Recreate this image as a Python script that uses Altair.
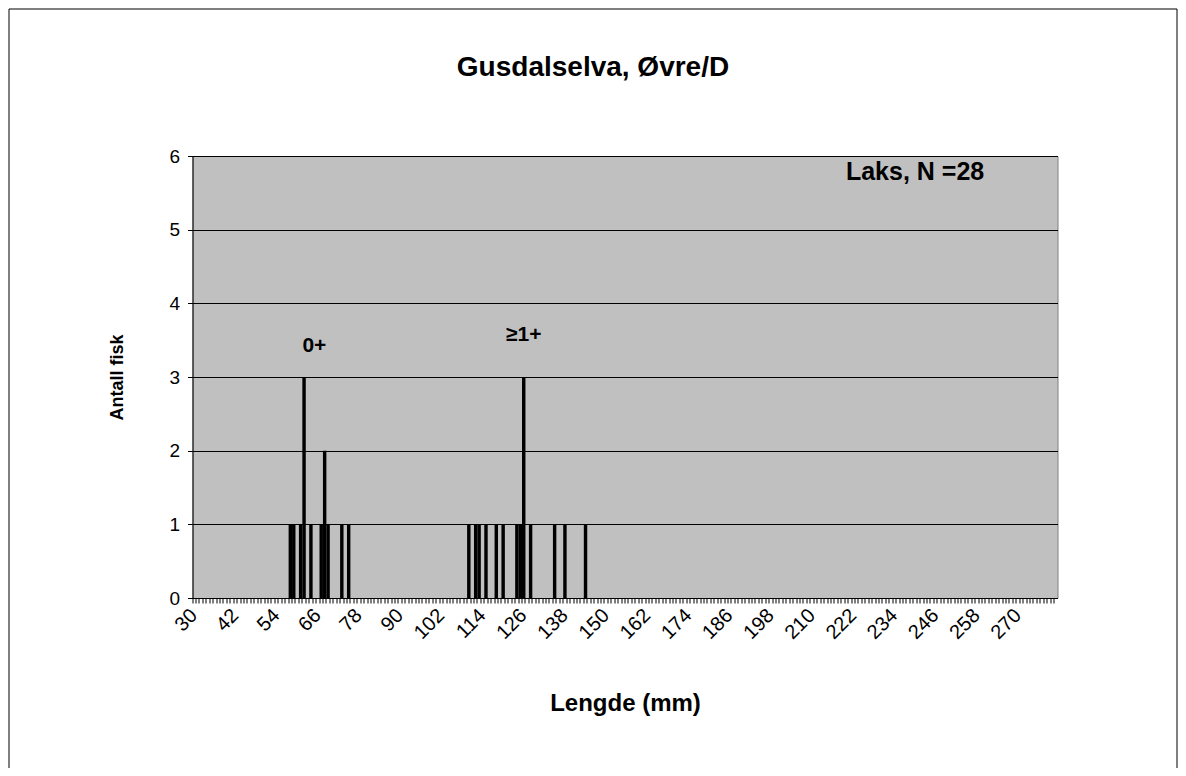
import altair as alt
import pandas as pd

# ---- data ----
categories = list(range(30, 282))          # length classes (mm), one per mm
lengde_mm = [58, 59, 61, 62, 64, 67, 68, 69, 73, 75,
             110, 112, 113, 115, 118, 120, 124, 125, 126, 128, 135, 138, 144]
antall = [1, 1, 1, 3, 1, 1, 2, 1, 1, 1,
          1, 1, 1, 1, 1, 1, 1, 1, 3, 1, 1, 1, 1]
tick_labels = list(range(30, 271, 12))

ann_text = ["0+", "\u22651+"]
ann_x = [65, 126]
ann_y = [3.42, 3.57]

title_text = "Gusdalselva, \u00d8vre/D"
legend_text = "Laks, N =28"

FONT = "Liberation Sans"

counts = dict(zip(lengde_mm, antall))
df = pd.DataFrame({"lengde": categories,
                   "antall": [counts.get(c, 0) for c in categories]})
ann = pd.DataFrame({"lengde": ann_x, "y": ann_y, "label": ann_text})
leg = pd.DataFrame({"lengde": [240], "y": [5.78], "label": [legend_text]})

xscale = alt.Scale(domain=categories, paddingInner=0, paddingOuter=0)
yscale = alt.Scale(domain=[0, 6])

label_expr = "(datum.value - 30) % 12 == 0 ? datum.label : ''"

bars = alt.Chart(df).mark_bar(color="black").encode(
    x=alt.X("lengde:O", scale=xscale, sort=None,
            axis=alt.Axis(values=categories, labelExpr=label_expr,
                          labelAngle=-45, labelAlign="right", labelBaseline="middle",
                          labelPadding=9, labelFont=FONT, labelFontSize=20,
                          labelColor="black", labelOverlap=False,
                          tickColor="black", tickSize=5, bandPosition=0,
                          domainColor="black", grid=False,
                          title="Lengde (mm)", titleFont=FONT, titleFontSize=24,
                          titleFontWeight="bold", titleColor="black",
                          titleX=432.5, titleY=105, titleBaseline="middle",
                          titleAlign="center")),
    y=alt.Y("antall:Q", scale=yscale,
            axis=alt.Axis(values=[0, 1, 2, 3, 4, 5, 6], format="d",
                          labelFont=FONT, labelFontSize=19, labelColor="black",
                          labelPadding=8, tickColor="black", tickSize=5,
                          domainColor="black", grid=True, gridColor="black",
                          gridWidth=1, gridOpacity=1,
                          title="Antall fisk", titleFont=FONT, titleFontSize=18,
                          titleFontWeight="bold", titleColor="black",
                          titleAngle=270, titleX=-75, titleY=221,
                          titleAlign="center", titleBaseline="middle")),
)

annot = alt.Chart(ann).mark_text(font=FONT, fontSize=21, fontWeight="bold",
                                 color="black").encode(
    x=alt.X("lengde:O", scale=xscale, sort=None),
    y=alt.Y("y:Q", scale=yscale),
    text="label:N",
)

legend = alt.Chart(leg).mark_text(font=FONT, fontSize=25, fontWeight="bold",
                                  color="black").encode(
    x=alt.X("lengde:O", scale=xscale, sort=None),
    y=alt.Y("y:Q", scale=yscale),
    text="label:N",
)

title = alt.Chart(pd.DataFrame({"t": [title_text]})).mark_text(
    font=FONT, fontSize=28, fontWeight="bold", color="black"
).encode(x=alt.value(400.5), y=alt.value(-88), text="t:N")

frame = alt.Chart(pd.DataFrame({"a": [0]})).mark_rect(
    fillOpacity=0, stroke="black", strokeWidth=1
).encode(x=alt.value(-183.5), x2=alt.value(984.5),
         y=alt.value(-147), y2=alt.value(630))

chart = alt.layer(bars, annot, legend, title, frame).properties(
    width=865, height=442,
    autosize=alt.AutoSizeParams(type="none"),
    padding={"left": 184.5, "top": 148, "right": 120, "bottom": 170},
    background="white",
).configure_view(fill="#C0C0C0", stroke="#808080", strokeWidth=1)

chart.save("out.html", embed_options={"renderer": "svg", "actions": False})
